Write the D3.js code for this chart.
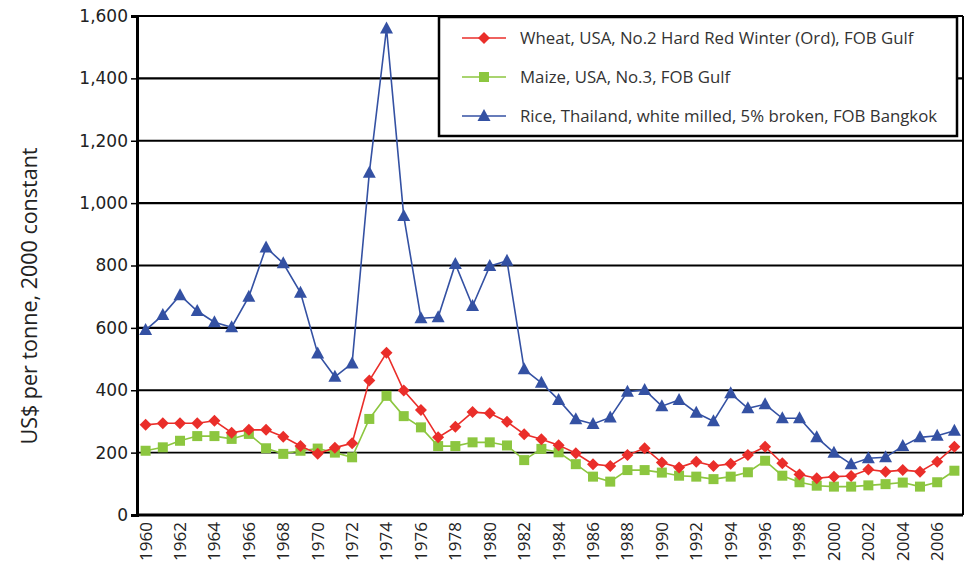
<!DOCTYPE html>
<html><head><meta charset="utf-8">
<script src="https://cdn.jsdelivr.net/npm/d3@7"></script>
<style>body{margin:0;background:#fff}svg{display:block}text{font-family:"Open Sans","Noto Sans",sans-serif}</style>
</head><body><svg id="c" width="968" height="567"></svg>
<script>
const years = d3.range(1960, 2008);
const wheat = [289,294,294,294,302,264,273,273,251,221,196,216,230,431,520,399,337,249,283,330,326,299,259,243,224,198,163,157,192,214,168,152,171,157,164,192,219,166,130,118,123,125,146,139,144,139,171,219];
const maize = [206,217,238,253,253,244,260,214,196,206,213,200,185,308,382,317,281,221,221,233,233,223,176,212,201,163,123,107,144,144,136,126,123,115,123,137,174,126,105,94,91,91,95,99,104,91,105,142];
const rice = [593,641,705,654,618,602,700,858,807,713,518,443,486,1097,1560,959,631,634,805,670,798,815,467,424,369,307,292,313,395,401,349,369,328,301,390,342,355,310,310,249,200,163,182,185,221,249,254,270];
const yTicks = [0,200,400,600,800,1000,1200,1400,1600];
const xLabels = d3.range(1960, 2008, 2);
const seriesNames = ["Wheat, USA, No.2 Hard Red Winter (Ord), FOB Gulf","Maize, USA, No.3, FOB Gulf","Rice, Thailand, white milled, 5% broken, FOB Bangkok"];
const colors = ["#ea2e2a","#8cc63f","#3451a3"];

const svg = d3.select("#c");
const L=137, R=963, T=16, B=515;
const x = d3.scaleBand().domain(years).range([L,R]);
const y = d3.scaleLinear().domain([0,1600]).range([B,T]);
const cx = d => x(d) + x.bandwidth()/2;

svg.append("g").selectAll("line").data(yTicks.filter(v=>v>0)).join("line")
  .attr("x1",L).attr("x2",R).attr("y1",d=>y(d)).attr("y2",d=>y(d))
  .attr("stroke","#000").attr("stroke-width",d=>d===200?1.6:2.2);
svg.append("line").attr("x1",R).attr("x2",R).attr("y1",T).attr("y2",B).attr("stroke","#000").attr("stroke-width",2);

const ya = svg.append("g").attr("transform",`translate(${L},0)`)
  .call(d3.axisLeft(y).tickValues(yTicks).tickFormat(d3.format(",")).tickSize(6).tickPadding(3));
ya.select(".domain").attr("stroke","#000").attr("stroke-width",3);
ya.selectAll(".tick line").attr("stroke","#000").attr("stroke-width",1.5);
ya.selectAll("text").attr("font-size",17).attr("fill","#222").style("font-family","'DejaVu Sans',sans-serif");

const xa = svg.append("g").attr("transform",`translate(0,${B})`)
  .call(d3.axisBottom(x).tickValues(xLabels).tickSize(0).tickPadding(0));
xa.select(".domain").attr("stroke","#000").attr("stroke-width",3).attr("d",`M${L},0H${R}`);
xa.selectAll("text").attr("font-size",17).attr("fill","#222")
  .attr("transform","rotate(-90)").attr("text-anchor","end").attr("dy","0.35em").attr("y",0).attr("x",-7);

svg.append("text").attr("transform","translate(37,296) rotate(-90)").attr("text-anchor","middle")
  .attr("font-size",21.5).attr("fill","#222").text("US$ per tonne, 2000 constant");

const line = d3.line().x((d,i)=>cx(years[i])).y(d=>y(d));
const data = [wheat, maize, rice];
function marker(g, k, px, py) {
  if (k===0) g.append("path").attr("d",`M${px},${py-6}L${px+6},${py}L${px},${py+6}L${px-6},${py}Z`).attr("fill",colors[0]);
  else if (k===1) g.append("rect").attr("x",px-5).attr("y",py-5).attr("width",10).attr("height",10).attr("fill",colors[1]);
  else g.append("path").attr("d",`M${px},${py-7}L${px+6.5},${py+5}L${px-6.5},${py+5}Z`).attr("fill",colors[2]);
}
[1,0,2].forEach(k=>{
  const g = svg.append("g");
  g.append("path").datum(data[k]).attr("d",line).attr("fill","none").attr("stroke",colors[k]).attr("stroke-width",1.6);
  data[k].forEach((v,i)=>marker(g,k,cx(years[i]),y(v)));
});

const lg = svg.append("g");
lg.append("rect").attr("x",439).attr("y",17).attr("width",518).attr("height",119).attr("fill","#fff").attr("stroke","#000").attr("stroke-width",2.5);
seriesNames.forEach((n,k)=>{
  const yy = 38 + k*39;
  lg.append("line").attr("x1",462).attr("x2",506).attr("y1",yy).attr("y2",yy).attr("stroke",colors[k]).attr("stroke-width",1.6);
  marker(lg,k,484,yy);
  lg.append("text").attr("x",520).attr("y",yy).attr("dy","0.35em").attr("font-size",16.8).attr("fill","#333").text(n);
});
</script></body></html>
